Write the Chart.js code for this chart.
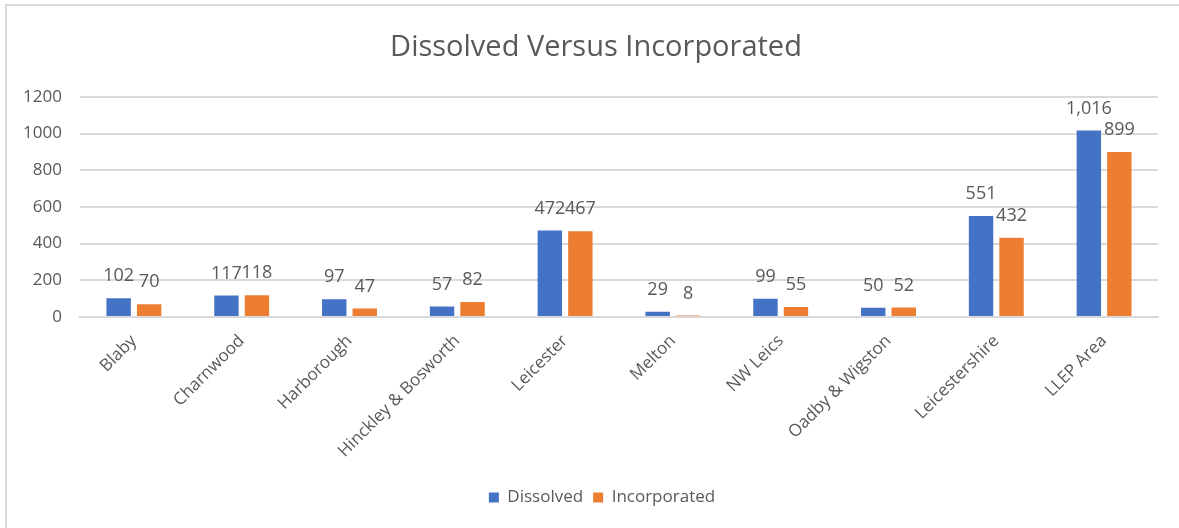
<!DOCTYPE html>
<html>
<head>
<meta charset="utf-8">
<script src="https://cdn.jsdelivr.net/npm/chart.js@4/dist/chart.umd.min.js"></script>
<style>
  html, body { margin: 0; padding: 0; width: 1179px; height: 528px; overflow: hidden; background: #fff; }
  #frame { position: absolute; left: 5px; top: 4px; width: 1300px; height: 700px; border: 2px solid #d9d9d9; box-sizing: border-box; }
  #wrap { position: absolute; left: 0; top: 0; width: 1179px; height: 528px; }
</style>
</head>
<body>
<div id="frame"></div>
<div id="wrap"><canvas id="c" width="1179" height="528"></canvas></div>
<script>
const categories = ["Blaby", "Charnwood", "Harborough", "Hinckley & Bosworth", "Leicester", "Melton", "NW Leics", "Oadby & Wigston", "Leicestershire", "LLEP Area"];
const dissolved = [102, 117, 97, 57, 472, 29, 99, 50, 551, 1016];
const incorporated = [70, 118, 47, 82, 467, 8, 55, 52, 432, 899];
const yTicks = [0, 200, 400, 600, 800, 1000, 1200];

const FONT = "'Open Sans', 'Noto Sans', sans-serif";
const TEXT = '#595959';

const dataLabels = {
  id: 'dataLabels',
  afterDatasetsDraw(chart) {
    const ctx = chart.ctx;
    ctx.save();
    ctx.font = '18px ' + FONT;
    ctx.fillStyle = TEXT;
    ctx.textAlign = 'center';
    ctx.textBaseline = 'middle';
    chart.data.datasets.forEach((ds, i) => {
      chart.getDatasetMeta(i).data.forEach((bar, j) => {
        ctx.fillText(ds.data[j].toLocaleString('en-US'), bar.x, bar.y - 22);
      });
    });
    ctx.restore();
  }
};

// nudge title and legend horizontally to match the reference's centring
const nudge = {
  id: 'nudge',
  afterLayout(chart) {
    if (chart.legend) { chart.legend.left += 13; chart.legend.right += 13; }
    if (chart.titleBlock) { chart.titleBlock.left += 7; chart.titleBlock.right += 7; }
  }
};

new Chart(document.getElementById('c'), {
  type: 'bar',
  data: {
    labels: categories,
    datasets: [
      { label: 'Dissolved', data: dissolved, backgroundColor: '#4472C4', categoryPercentage: 0.566, barPercentage: 0.8 },
      { label: 'Incorporated', data: incorporated, backgroundColor: '#ED7D31', categoryPercentage: 0.566, barPercentage: 0.8 }
    ]
  },
  options: {
    responsive: false,
    animation: false,
    devicePixelRatio: 1,
    layout: { padding: { left: 20, right: 21, top: 0, bottom: 12 } },
    plugins: {
      title: {
        display: true,
        text: 'Dissolved Versus Incorporated',
        color: TEXT,
        font: { family: FONT, size: 29, weight: 'normal' },
        padding: { top: 30, bottom: 32 }
      },
      legend: {
        position: 'bottom',
        labels: { color: TEXT, font: { family: FONT, size: 17 }, boxWidth: 10, boxHeight: 10, padding: 10 }
      },
      tooltip: { enabled: false }
    },
    scales: {
      x: {
        grid: { display: false, drawTicks: false },
        border: { color: '#d9d9d9', width: 2 },
        ticks: { color: TEXT, font: { family: FONT, size: 17 }, minRotation: 45, maxRotation: 45, padding: 14, autoSkip: false },
        afterFit(s) { s.height = 162; }
      },
      y: {
        min: 0, max: 1200,
        afterBuildTicks(s) { s.ticks = yTicks.map(v => ({ value: v })); },
        grid: { color: '#d9d9d9', lineWidth: 2, drawTicks: false },
        border: { display: false },
        ticks: { color: TEXT, font: { family: FONT, size: 17 }, padding: 18, callback: v => String(v) },
        afterFit(s) { s.width = 60; }
      }
    }
  },
  plugins: [dataLabels, nudge]
});
</script>
</body>
</html>
